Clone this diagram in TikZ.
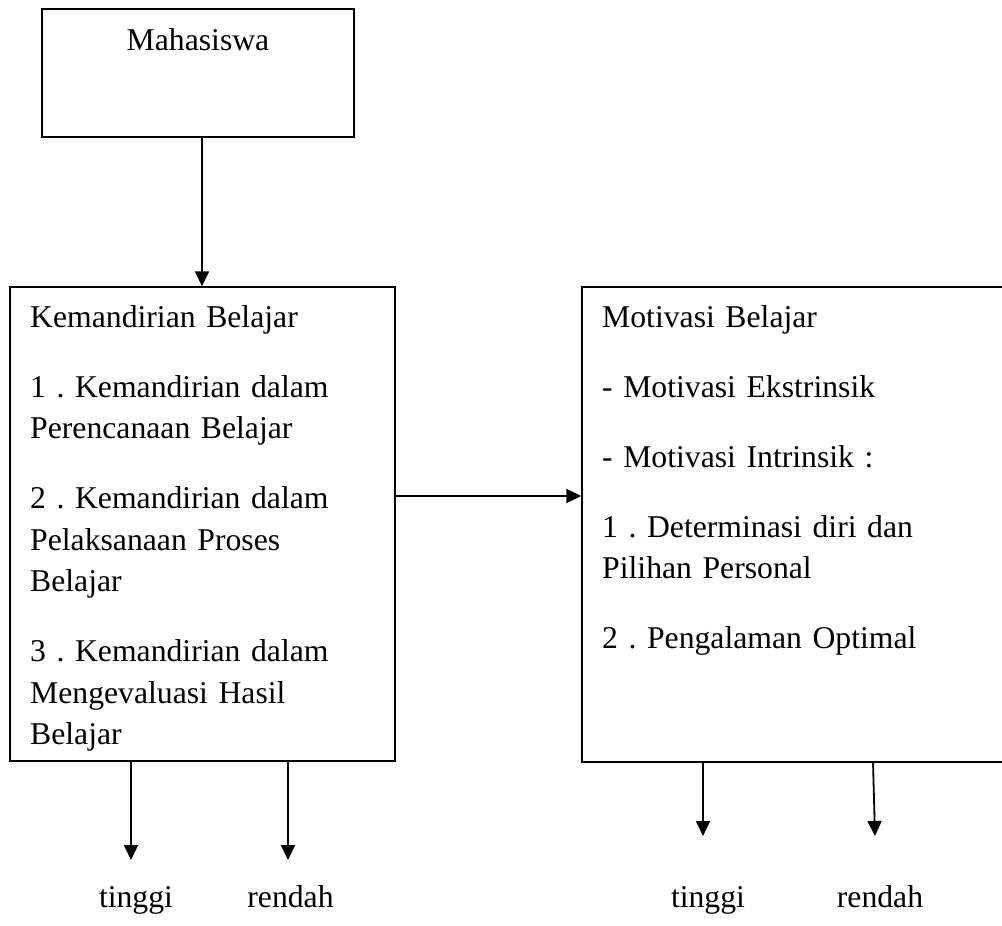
\documentclass[tikz,border=0pt]{standalone}
\usepackage{fontspec}
\setmainfont{Liberation Serif}
\usetikzlibrary{arrows.meta}
\tikzset{
  box/.style={draw=black, line width=1.5pt, inner sep=0pt},
  txt/.style={inner sep=0pt, font=\fontsize{31.7pt}{41.5pt}\selectfont\frenchspacing},
  para/.style={txt, align=left, anchor=base west},
  arr/.style={line width=1.8pt, -{Triangle[length=15pt,width=14pt]}},
}
\begin{document}
\begin{tikzpicture}[x=1pt,y=-1pt]
\useasboundingbox (0,0) rectangle (1002,926);
\clip (0,0) rectangle (1002,926);
% boxes
\node[box, minimum width=312pt, minimum height=128pt] (M) at (198,73) {};
\node[box, minimum width=385pt, minimum height=474pt] (L) at (202.5,524) {};
\node[box, minimum width=430pt, minimum height=475pt] (R) at (797,524.5) {};
% texts
\node[txt, anchor=base] (Mt) at (198,50) {Mahasiswa};
\node[para, text width=360pt] (Lt) at (30,327) {Kemandirian Belajar\\[28.5pt]
1 . Kemandirian dalam\\
Perencanaan Belajar\\[28.5pt]
2 . Kemandirian dalam\\
Pelaksanaan Proses\\
Belajar\\[28.5pt]
3 . Kemandirian dalam\\
Mengevaluasi Hasil\\
Belajar};
\node[para, text width=380pt] (Rt) at (602,327) {Motivasi Belajar\\[28.5pt]
- Motivasi Ekstrinsik\\[28.5pt]
- Motivasi Intrinsik :\\[28.5pt]
1 . Determinasi diri dan\\
Pilihan Personal\\[28.5pt]
2 . Pengalaman Optimal};
% bottom labels
\node[txt, anchor=base] (L1) at (136,907) {tinggi};
\node[txt, anchor=base] (L2) at (290.5,907) {rendah};
\node[txt, anchor=base] (R1) at (708,907) {tinggi};
\node[txt, anchor=base] (R2) at (880,907) {rendah};
% coordinates
\coordinate (top) at (202,0);
\coordinate (mid) at (0,496);
\coordinate (a1) at (131,761);
\coordinate (a1e) at (131,860);
\coordinate (a2) at (288,761);
\coordinate (a2e) at (288,860);
\coordinate (b1) at (703,762);
\coordinate (b1e) at (703,836);
\coordinate (b2) at (873,762);
\coordinate (b2e) at (875,836);
% connectors
\draw[arr] (M.south -| top) -- (L.north -| top);
\draw[arr] (L.east |- mid) -- (R.west |- mid);
\draw[arr] (a1) -- (a1e);
\draw[arr] (a2) -- (a2e);
\draw[arr] (b1) -- (b1e);
\draw[arr] (b2) -- (b2e);
\end{tikzpicture}
\end{document}
